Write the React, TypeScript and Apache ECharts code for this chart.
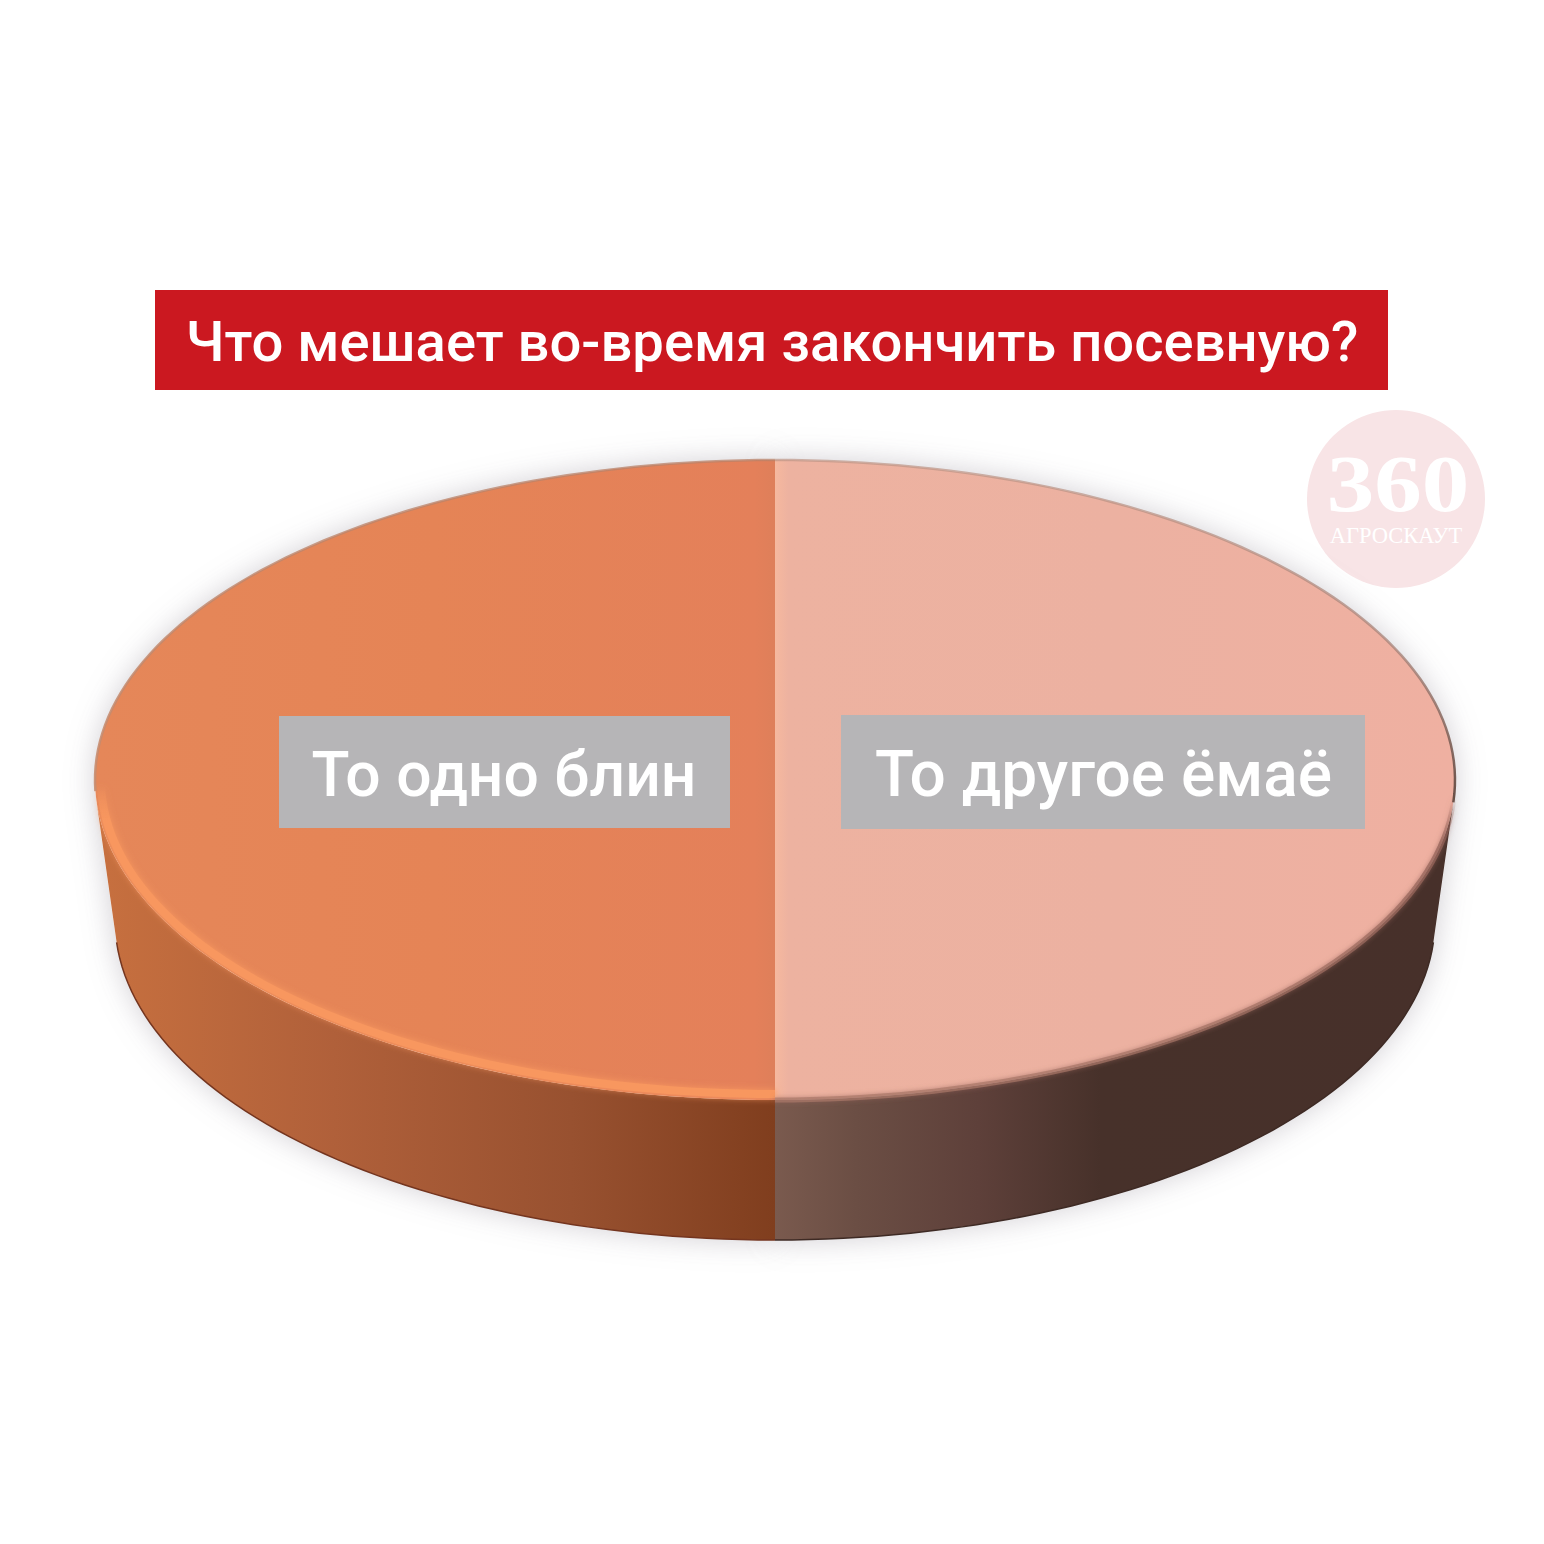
import React, { useEffect, useRef } from "react";
import * as echarts from "echarts";

const titleText = "Что мешает во-время закончить посевную?";
const categories = ["То одно блин", "То другое ёмаё"];
const shares = [50, 50];
const watermarkNumber = "360";
const watermarkName = "АГРОСКАУТ";

const CX = 775;
const TOP = { cy: 780, rx: 680, ry: 320 };
const BOTTOM = { cy: 920, rx: 660, ry: 320 };
const START_DEG = 90;
// the two ellipses share a tangent this many degrees below their widest point
const TANGENT_DEG = 4;

const topStops = [
  [[0, "#E58759"], [0.5, "#E58456"], [0.97, "#E4805A"], [1, "#DE7F5A"]],
  [[0, "#F6B89E"], [0.02, "#EDB2A0"], [0.5, "#ECB1A1"], [1, "#EFB0A1"]],
];
const wallStops = [
  [[0, "#C7703F"], [0.35, "#B0603A"], [0.7, "#985130"], [1, "#803E1E"]],
  [[0, "#7A5A4E"], [0.12, "#6B4E44"], [0.3, "#5E403A"], [0.48, "#47312A"], [1, "#47302A"]],
];
const labelBoxes = [
  { x: 279, y: 716, width: 451, height: 112 },
  { x: 841, y: 715, width: 524, height: 114 },
];
const labelFonts = ['500 62.4px "Roboto"', '500 64px "Roboto"'];
const labelCenters = [504, 1103.5];

const gradient = (stops: any[], vertical = false) =>
  new echarts.graphic.LinearGradient(
    0, 0, vertical ? 0 : 1, vertical ? 1 : 0,
    stops.map(([offset, color]) => ({ offset, color }))
  );

const arc = (e: { cy: number; rx: number; ry: number }, from: number, to: number, inset = 0) => {
  const pts: number[][] = [];
  const steps = Math.max(2, Math.ceil(Math.abs(to - from) / 1.5));
  for (let i = 0; i <= steps; i++) {
    const t = ((from + ((to - from) * i) / steps) * Math.PI) / 180;
    pts.push([CX + (e.rx - inset) * Math.cos(t), e.cy + (e.ry - inset) * Math.sin(t)]);
  }
  return pts;
};

const sliceStart = (index: number, total: number) => {
  let acc = 0;
  for (let i = 0; i < index; i++) acc += shares[i];
  return START_DEG + (acc / total) * 360;
};

const renderSlice = (params: any, api: any) => {
  const i = params.dataIndex;
  const total = shares.reduce((a, b) => a + b, 0);
  const from = sliceStart(i, total);
  const to = from + (api.value(0) / total) * 360;

  // only the part of the rim facing the viewer has a visible wall
  const wallFrom = i === 0 ? from : Math.max(from, 360 + TANGENT_DEG);
  const wallTo = i === 0 ? Math.min(to, 180 - TANGENT_DEG) : to;

  const wallPts = [...arc(TOP, wallFrom, wallTo), ...arc(BOTTOM, wallFrom, wallTo).reverse()];
  const topPts = [[CX, TOP.cy], ...arc(TOP, from, to)];
  const hull =
    i === 0
      ? [...arc(TOP, 270, 180 - TANGENT_DEG), ...arc(BOTTOM, 180 - TANGENT_DEG, 90)]
      : [...arc(TOP, 270, 360 + TANGENT_DEG), ...arc(BOTTOM, TANGENT_DEG, 90)];
  const box = labelBoxes[i];

  const rim =
    i === 0
      ? {
          pts: arc(TOP, 90, 179, 6),
          stroke: gradient([[0, "rgba(248,151,95,0)"], [0.12, "#F8975F"], [1, "#F8975F"]], true),
          width: 8,
          blur: 7,
          color: "#F8975F",
        }
      : {
          pts: arc(TOP, 3, 90, 0),
          stroke: gradient([[0, "rgba(150,100,90,0)"], [0.15, "rgba(150,100,90,0.75)"], [1, "rgba(170,120,105,0.7)"]], true),
          width: 5,
          blur: 5,
          color: "rgba(150,100,90,0.8)",
        };
  const edge =
    i === 0
      ? {
          pts: arc(TOP, 178, 270),
          stroke: gradient([[0, "rgba(185,130,105,0.75)"], [1, "rgba(200,140,110,0.9)"]], true),
        }
      : {
          pts: arc(TOP, 270, 364),
          stroke: gradient([[0, "rgba(190,150,135,0.7)"], [0.55, "rgba(165,130,120,0.75)"], [1, "rgba(95,70,62,0.95)"]], true),
        };

  return {
    type: "group",
    children: [
      {
        type: "polygon",
        z2: 1,
        shape: { points: hull },
        style: { fill: "#ffffff", shadowBlur: 30, shadowColor: "rgba(150,145,155,0.45)" },
      },
      { type: "polygon", z2: 2, shape: { points: wallPts }, style: { fill: gradient(wallStops[i]) } },
      {
        type: "polyline",
        z2: 3,
        shape: { points: arc(BOTTOM, wallFrom, wallTo) },
        style: { fill: "none", stroke: i === 0 ? "#74351F" : "#3E2A24", lineWidth: 1.5 },
      },
      { type: "polygon", z2: 4, shape: { points: topPts }, style: { fill: gradient(topStops[i]) } },
      {
        type: "polyline",
        z2: 5,
        shape: { points: edge.pts },
        style: { fill: "none", stroke: edge.stroke, lineWidth: 2.5 },
      },
      {
        type: "polyline",
        z2: 6,
        shape: { points: rim.pts },
        style: {
          fill: "none",
          stroke: rim.stroke,
          lineWidth: rim.width,
          shadowBlur: rim.blur,
          shadowColor: rim.color,
        },
      },
      { type: "rect", z2: 20, shape: box, style: { fill: "#B6B5B7" } },
      {
        type: "text",
        z2: 21,
        style: {
          text: categories[i],
          x: labelCenters[i],
          y: 774,
          fill: "#FFFFFF",
          font: labelFonts[i],
          textAlign: "center",
          textVerticalAlign: "middle",
        },
      },
    ],
  };
};

export default function App() {
  const ref = useRef<HTMLDivElement>(null);
  useEffect(() => {
    const chart = echarts.init(ref.current!, undefined, { renderer: "svg" });
    chart.setOption({
      animation: false,
      backgroundColor: "#FFFFFF",
      title: {
        text: titleText,
        left: 767,
        top: 337,
        textAlign: "center",
        textVerticalAlign: "middle",
        textStyle: { color: "#FFFFFF", fontFamily: "Roboto", fontWeight: 500, fontSize: 56.2 },
        z: 10,
      },
      graphic: [
        { type: "rect", z: 1, shape: { x: 155, y: 290, width: 1233, height: 100 }, style: { fill: "#CB1820" } },
        { type: "circle", z: -1, shape: { cx: 1396, cy: 499, r: 89 }, style: { fill: "#F8E4E6" } },
        {
          type: "text", z: 0, x: 1398, y: 484, scaleX: 1.19,
          style: {
            text: watermarkNumber, x: 0, y: 0, fill: "#FFFFFF",
            font: 'bold 80px "Liberation Serif"', textAlign: "center", textVerticalAlign: "middle",
          },
        },
        {
          type: "text", z: 0,
          style: {
            text: watermarkName, x: 1396, y: 535, fill: "#FFFFFF",
            font: '22.5px "Liberation Serif"', textAlign: "center", textVerticalAlign: "middle",
          },
        },
      ],
      series: [
        {
          type: "custom",
          coordinateSystem: "none",
          silent: true,
          z: 3,
          renderItem: renderSlice,
          data: categories.map((name, i) => ({ name, value: [shares[i]] })),
        },
      ],
    });
    return () => chart.dispose();
  }, []);
  return <div ref={ref} style={{ position: "fixed", left: 0, top: 0, width: 1544, height: 1544 }} />;
}
